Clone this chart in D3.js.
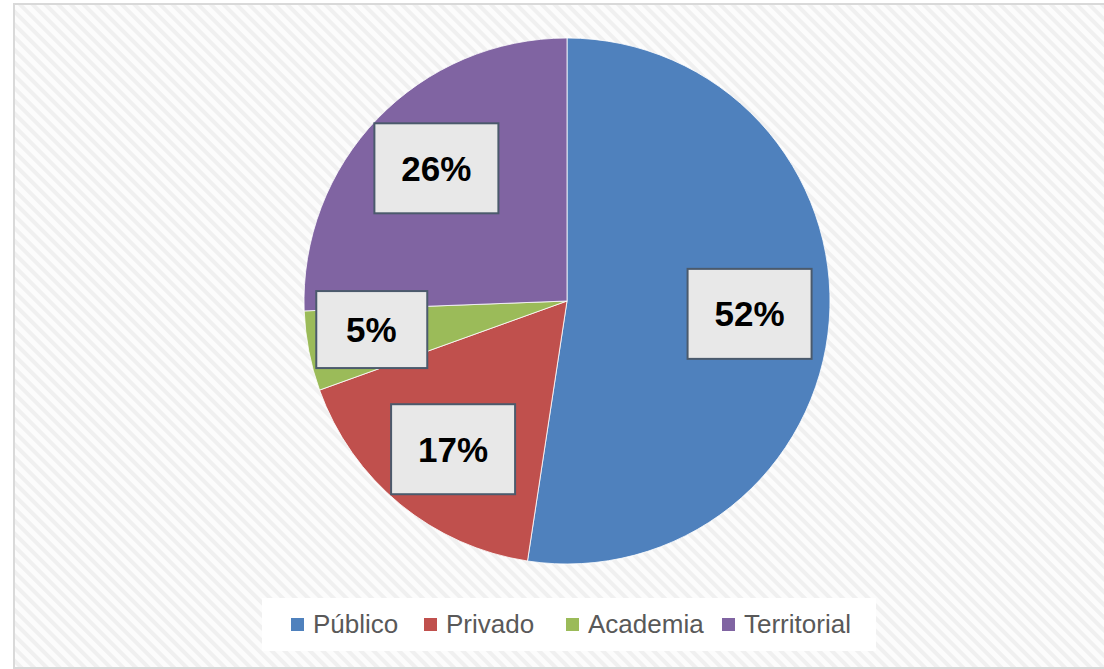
<!DOCTYPE html>
<html>
<head>
<meta charset="utf-8">
<script src="https://cdn.jsdelivr.net/npm/d3@7"></script>
<style>
  body { margin: 0; background: #fff; }
  svg { display: block; }
</style>
</head>
<body>
<div id="chart"></div>
<script>
// Data
const categories = ["Público", "Privado", "Academia", "Territorial"];
const shares = [52.4, 17.1, 4.9, 25.6];
const labels = ["52%", "17%", "5%", "26%"];
const colors = ["#4f81bd", "#c0504d", "#9bbb59", "#8064a2"];

const width = 1104, height = 669;
const cx = 567, cy = 301, radius = 263;

const svg = d3.select("#chart").append("svg")
  .attr("width", width)
  .attr("height", height);

// hatched background like the office chart style
const defs = svg.append("defs");
const pat = defs.append("pattern")
  .attr("id", "hatch")
  .attr("patternUnits", "userSpaceOnUse")
  .attr("width", 9)
  .attr("height", 9)
  .attr("patternTransform", "rotate(-45)");
pat.append("rect").attr("width", 9).attr("height", 9).attr("fill", "#fcfcfc");
pat.append("rect").attr("width", 4).attr("height", 9).attr("fill", "#f0f0f0");

svg.append("rect")
  .attr("x", 14).attr("y", 4)
  .attr("width", width).attr("height", height - 5)
  .attr("fill", "url(#hatch)")
  .attr("stroke", "#d9d9d9")
  .attr("stroke-width", 2);

// pie
const pie = d3.pie().sort(null).value(d => d.value);
const data = categories.map((c, i) => ({ name: c, value: shares[i], label: labels[i], color: colors[i] }));
const arcs = pie(data);

const arc = d3.arc().innerRadius(0).outerRadius(radius);
const labelArc = d3.arc().innerRadius(radius * 0.7).outerRadius(radius * 0.7);

const g = svg.append("g").attr("transform", `translate(${cx},${cy})`);

g.selectAll("path.slice")
  .data(arcs)
  .enter()
  .append("path")
  .attr("class", "slice")
  .attr("d", arc)
  .attr("fill", d => d.data.color)
  .attr("stroke", "#ffffff")
  .attr("stroke-width", 0.8);

// data labels in boxes
const nudge = { "Público": [-1, -1], "Privado": [3, 6], "Academia": [-15, -7], "Territorial": [2, -5] };
const lbl = g.selectAll("g.lbl")
  .data(arcs)
  .enter()
  .append("g")
  .attr("class", "lbl")
  .attr("transform", d => {
    const [x, y] = labelArc.centroid(d);
    const [dx, dy] = nudge[d.data.name];
    return `translate(${x + dx},${y + dy})`;
  });

lbl.append("rect")
  .attr("x", d => d.data.label.length > 2 ? -62 : -55)
  .attr("y", d => d.data.label.length > 2 ? -45 : -38)
  .attr("width", d => d.data.label.length > 2 ? 124 : 111)
  .attr("height", d => d.data.label.length > 2 ? 90 : 77)
  .attr("fill", "#e8e8e8")
  .attr("stroke", "#4b5a6c")
  .attr("stroke-width", 2);

lbl.append("text")
  .attr("text-anchor", "middle")
  .attr("dy", "0.36em")
  .style("font-family", "Liberation Sans, Arial, sans-serif")
  .style("font-weight", "bold")
  .style("font-size", "35px")
  .style("fill", "#000")
  .text(d => d.data.label);

// legend
const legend = svg.append("g").attr("class", "legend");
legend.append("rect")
  .attr("x", 262).attr("y", 598)
  .attr("width", 614).attr("height", 53)
  .attr("fill", "#ffffff");

const legendX = d3.scaleOrdinal().domain(categories).range([291, 424, 566, 722]);

const items = legend.selectAll("g.item")
  .data(data)
  .enter()
  .append("g")
  .attr("class", "item")
  .attr("transform", d => `translate(${legendX(d.name)},633)`);

items.append("rect")
  .attr("x", 0).attr("y", -15)
  .attr("width", 13).attr("height", 13)
  .attr("fill", d => d.color);

items.append("text")
  .attr("x", 22)
  .style("font-family", "Liberation Sans, Arial, sans-serif")
  .style("font-size", "26px")
  .style("fill", "#595959")
  .text(d => d.name);
</script>
</body>
</html>
